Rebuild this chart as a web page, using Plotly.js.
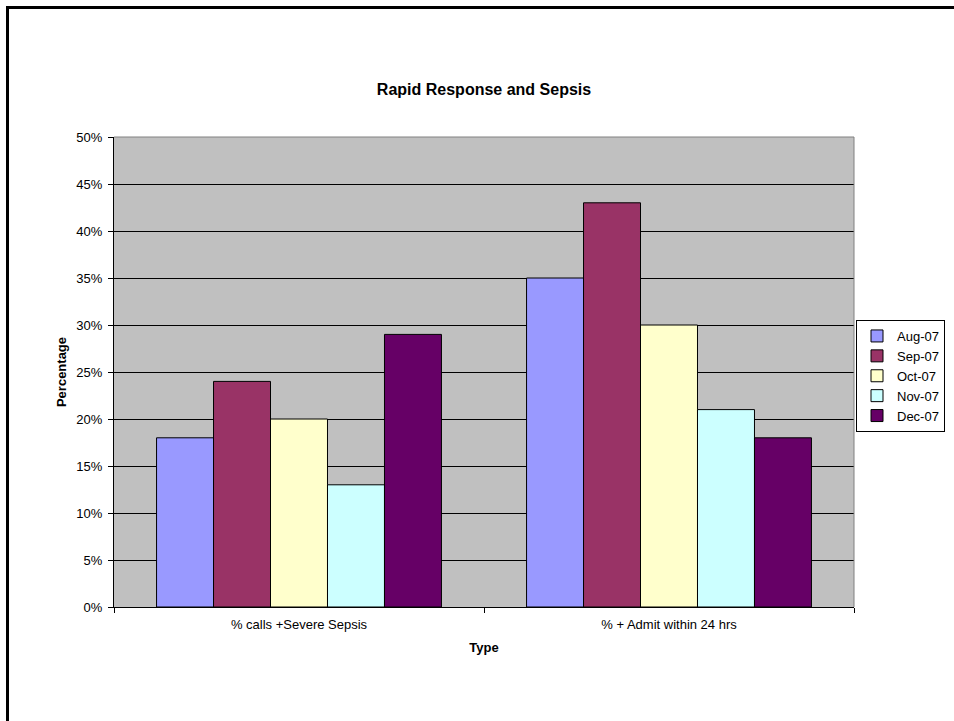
<!DOCTYPE html>
<html>
<head>
<meta charset="utf-8">
<script src="https://cdn.plot.ly/plotly-3.0.1.min.js"></script>
<style>html,body{margin:0;padding:0;background:#fff;}#chart{width:954px;height:721px;}</style>
</head>
<body>
<div id="chart"></div>
<script>
const categories = ["% calls +Severe Sepsis", "% + Admit within 24 hrs"];
const seriesNames = ["Aug-07", "Sep-07", "Oct-07", "Nov-07", "Dec-07"];
const aug07 = [18, 35];
const sep07 = [24, 43];
const oct07 = [20, 30];
const nov07 = [13, 21];
const dec07 = [29, 18];
const seriesValues = [aug07, sep07, oct07, nov07, dec07];
const seriesColors = ["#9999FF", "#993366", "#FFFFCC", "#CCFFFF", "#660066"];

const traces = seriesNames.map((name, i) => ({
  type: "bar",
  name: name,
  x: categories,
  y: seriesValues[i],
  marker: {color: seriesColors[i], line: {color: "#000000", width: 1}},
  hoverinfo: "x+y+name"
}));

const font = "Liberation Sans, Arial, sans-serif";
const layout = {
  width: 954, height: 721,
  margin: {l: 114, r: 100, t: 137, b: 114, autoexpand: false},
  paper_bgcolor: "#ffffff",
  plot_bgcolor: "#C0C0C0",
  font: {family: font, size: 13, color: "#000000"},
  title: {text: "<b>Rapid Response and Sepsis</b>", font: {family: font, size: 16, color: "#000"},
          x: 0.5, xref: "paper", xanchor: "center", y: 1 - 89/721, yanchor: "middle"},
  barmode: "group",
  bargap: 0.23,
  bargroupgap: 0,
  showlegend: true,
  legend: {x: (856-114)/740, xanchor: "left", y: (607-320)/470, yanchor: "top",
           bordercolor: "#000000", borderwidth: 1, bgcolor: "#ffffff",
           font: {family: font, size: 13}, tracegroupgap: 0, itemwidth: 30},
  xaxis: {
    type: "category",
    showline: true, linecolor: "#000000", linewidth: 1,
    ticks: "outside", ticklen: 5, tickcolor: "#000000", tickson: "boundaries",
    ticklabelstandoff: 5,
    showgrid: false, zeroline: false,
    tickfont: {family: font, size: 13},
    title: {text: "<b>Type</b>", font: {family: font, size: 13}, standoff: 12}
  },
  yaxis: {
    range: [0, 50], dtick: 5, tick0: 0, ticksuffix: "%",
    showline: true, linecolor: "#000000", linewidth: 1,
    ticks: "outside", ticklen: 5, tickcolor: "#000000",
    ticklabelstandoff: 3,
    showgrid: true, gridcolor: "#000000", gridwidth: 1,
    zeroline: false,
    tickfont: {family: font, size: 13},
    title: {text: "<b>Percentage</b>", font: {family: font, size: 13}, standoff: 6}
  },
  shapes: [
    {type: "line", xref: "paper", yref: "paper", x0: 0, x1: 1, y0: 1, y1: 1, line: {color: "#808080", width: 1}},
    {type: "line", xref: "paper", yref: "paper", x0: 1, x1: 1, y0: 0, y1: 1, line: {color: "#808080", width: 1}},
    {type: "rect", xref: "paper", yref: "paper", x0: (7.5-114)/740, x1: 1.5, y0: -0.5, y1: (607-7.5)/470,
     line: {color: "#000000", width: 3}, fillcolor: "rgba(0,0,0,0)", layer: "above"}
  ]
};

Plotly.newPlot("chart", traces, layout, {displayModeBar: false, responsive: false});
</script>
</body>
</html>
